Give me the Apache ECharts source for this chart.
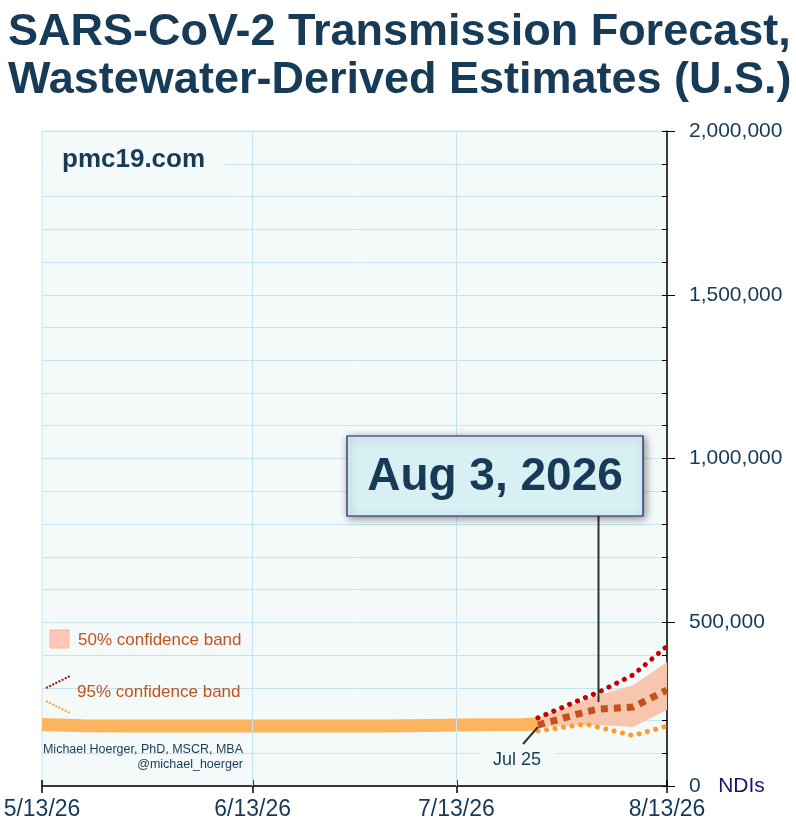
<!DOCTYPE html>
<html>
<head>
<meta charset="utf-8">
<script src="https://cdn.jsdelivr.net/npm/echarts@6/dist/echarts.min.js"></script>
<style>
  html, body { margin: 0; padding: 0; background: #fff; }
  #main { width: 796px; height: 828px; }
</style>
</head>
<body>
<div id="main"></div>
<script>
// 历史数据 (wastewater-derived estimates)
const histDates = ['2026-05-13', '2026-05-19', '2026-05-26', '2026-06-02', '2026-06-09', '2026-06-16',
  '2026-06-23', '2026-06-30', '2026-07-02', '2026-07-09', '2026-07-16', '2026-07-23', '2026-07-25'];
const histValues = [188000, 184000, 183000, 183000, 183000, 183000,
  183000, 183000, 183000, 185000, 187000, 188000, 189000];

// 预测数据
const fcDates = ['2026-07-25', '2026-08-01', '2026-08-03', '2026-08-08', '2026-08-13'];
const fcMedian = [186000, 226000, 235000, 241000, 293000];
const fc50Low = [180000, 186000, 186000, 180000, 232000];
const fc50High = [208000, 263000, 278000, 308000, 379000];
const fc95Low = [168000, 189000, 179000, 154000, 183000];
const fc95High = [208000, 270000, 287000, 339000, 427000];

// x 轴标签
const xTickDates = ['2026-05-13', '2026-06-13', '2026-07-13', '2026-08-13'];

const navy = '#173a57';
const font = 'Liberation Sans, Arial';

function ts(d) {
  return Date.UTC(+d.slice(0, 4), +d.slice(5, 7) - 1, +d.slice(8, 10));
}

function pairs(dates, vals) {
  return dates.map((d, i) => [ts(d), vals[i]]);
}

// 50% 置信带数据 [x, low, high]
const bandData = fcDates.map((d, i) => [ts(d), fc50Low[i], fc50High[i]]);

const chart = echarts.init(document.getElementById('main'), null, { renderer: 'canvas' });

const xMin = ts('2026-05-13');
const xMax = ts('2026-08-13');

const option = {
  backgroundColor: '#ffffff',
  animation: false,
  title: {
    text: 'SARS-CoV-2 Transmission Forecast,\nWastewater-Derived Estimates (U.S.)',
    left: 3,
    top: 4,
    textStyle: {
      fontFamily: font,
      fontSize: 45,
      fontWeight: 'bold',
      color: navy,
      lineHeight: 48
    }
  },
  grid: {
    left: 42,
    right: 129,
    top: 131,
    bottom: 42,
    show: true,
    backgroundColor: '#f4faf9',
    borderColor: '#c6e3f1',
    borderWidth: 1
  },
  xAxis: [
    {
      type: 'value',
      position: 'bottom',
      min: xMin,
      max: xMax,
      axisLine: { show: true, onZero: false, lineStyle: { color: '#000', width: 1.5 } },
      axisTick: {
        show: true,
        customValues: xTickDates.map(ts),
        length: 7,
        lineStyle: { color: '#000', width: 1.5 }
      },
      axisLabel: {
        customValues: xTickDates.map(ts),
        fontFamily: font,
        fontSize: 23,
        color: navy,
        margin: 12,
        formatter: function (v) {
          const d = new Date(v);
          return (d.getUTCMonth() + 1) + '/' + d.getUTCDate() + '/' + String(d.getUTCFullYear()).slice(2);
        }
      },
      splitLine: { show: false }
    },
    {
      // 内侧刻度
      type: 'value',
      position: 'bottom',
      min: xMin,
      max: xMax,
      axisLine: { show: false, onZero: false },
      axisTick: {
        show: true,
        inside: true,
        customValues: xTickDates.map(ts),
        length: 6,
        lineStyle: { color: '#000', width: 1.5 }
      },
      axisLabel: { show: false },
      splitLine: { show: false }
    }
  ],
  yAxis: [
    {
      type: 'value',
      position: 'right',
      min: 0,
      max: 2000000,
      interval: 100000,
      axisLine: { show: true, lineStyle: { color: '#000', width: 1.5 } },
      axisTick: { show: true, inside: true, length: 5, lineStyle: { color: '#000' } },
      axisLabel: { show: false },
      splitLine: { show: true, lineStyle: { color: '#c6e3f1', width: 1 } }
    },
    {
      type: 'value',
      position: 'right',
      min: 0,
      max: 2000000,
      interval: 500000,
      axisLine: { show: false },
      axisTick: { show: true, length: 8, lineStyle: { color: '#000' } },
      axisLabel: {
        margin: 22,
        fontFamily: font,
        fontSize: 21,
        color: navy,
        formatter: function (v) {
          if (v === 0) return '{a|0}   {b|NDIs}';
          return v.toLocaleString('en-US');
        },
        rich: {
          a: { fontFamily: font, fontSize: 21, color: navy },
          b: { fontFamily: font, fontSize: 21, color: '#16166e' }
        }
      },
      splitLine: { show: false }
    }
  ],
  series: [
    {
      // 竖向网格线
      type: 'line',
      data: [],
      silent: true,
      markLine: {
        silent: true,
        symbol: 'none',
        label: { show: false },
        lineStyle: { color: '#c6e3f1', width: 1, type: 'solid' },
        data: [{ xAxis: ts('2026-06-13') }, { xAxis: ts('2026-07-13') }]
      }
    },
    {
      name: '50% confidence band',
      type: 'custom',
      silent: true,
      data: bandData,
      encode: { x: 0, y: [1, 2] },
      z: 2,
      renderItem: function (params, api) {
        if (params.dataIndex !== 0) return;
        const top = bandData.map(d => api.coord([d[0], d[2]]));
        const bottom = bandData.map(d => api.coord([d[0], d[1]])).reverse();
        return {
          type: 'polygon',
          shape: { points: top.concat(bottom) },
          style: { fill: '#f6c6ae' }
        };
      }
    },
    {
      name: 'history',
      type: 'line',
      symbol: 'none',
      lineStyle: { color: '#fdb45e', width: 13, cap: 'butt' },
      data: pairs(histDates, histValues),
      z: 3
    },
    {
      name: '95% high',
      type: 'line',
      symbol: 'none',
      lineStyle: { color: '#c40000', width: 5, type: [0.1, 8.5], cap: 'round' },
      data: pairs(fcDates, fc95High),
      z: 4
    },
    {
      name: '95% low',
      type: 'line',
      symbol: 'none',
      lineStyle: { color: '#ff9a2c', width: 5, type: [0.1, 8.5], cap: 'round' },
      data: pairs(fcDates, fc95Low),
      z: 4
    },
    {
      name: 'median',
      type: 'line',
      symbol: 'none',
      lineStyle: { color: '#c4501a', width: 7, type: [7, 6], cap: 'butt' },
      data: pairs(fcDates, fcMedian),
      z: 5
    }
  ],
  graphic: [
    // pmc19.com
    { type: 'rect', shape: { x: 43, y: 144, width: 182, height: 32 }, style: { fill: '#f4faf9' }, z: 10 },
    {
      type: 'text', x: 62, y: 160, z: 11,
      style: { text: 'pmc19.com', font: 'bold 26px ' + font, fill: navy, verticalAlign: 'middle' }
    },
    // 图例
    {
      type: 'rect', shape: { x: 50, y: 630, width: 19, height: 18 },
      style: { fill: '#fbc9b5', stroke: '#f6b59b', lineWidth: 1 }, z: 10
    },
    {
      type: 'text', x: 78, y: 640, z: 11,
      style: { text: '50% confidence band', font: '17px ' + font, fill: '#c0531e', verticalAlign: 'middle' }
    },
    {
      type: 'line', shape: { x1: 46, y1: 688, x2: 70, y2: 676 },
      style: { stroke: '#a01010', lineWidth: 2, lineDash: [2, 1.5] }, z: 10
    },
    {
      type: 'line', shape: { x1: 46, y1: 701, x2: 70, y2: 713 },
      style: { stroke: '#ffa030', lineWidth: 2, lineDash: [2, 1.5] }, z: 10
    },
    {
      type: 'text', x: 77, y: 692, z: 11,
      style: { text: '95% confidence band', font: '17px ' + font, fill: '#c0531e', verticalAlign: 'middle' }
    },
    // 作者
    {
      type: 'text', x: 243, y: 750, z: 11,
      style: {
        text: 'Michael Hoerger, PhD, MSCR, MBA',
        font: '12.5px ' + font, fill: navy, align: 'right', verticalAlign: 'middle'
      }
    },
    {
      type: 'text', x: 243, y: 765, z: 11,
      style: {
        text: '@michael_hoerger',
        font: '12.5px ' + font, fill: navy, align: 'right', verticalAlign: 'middle'
      }
    },
    // Jul 25 标注
    { type: 'rect', shape: { x: 480, y: 748, width: 76, height: 24 }, style: { fill: '#f4faf9' }, z: 10 },
    {
      type: 'text', x: 517, y: 760, z: 11,
      style: { text: 'Jul 25', font: '18px ' + font, fill: navy, align: 'center', verticalAlign: 'middle' }
    },
    {
      type: 'line', shape: { x1: 523, y1: 744, x2: 538, y2: 727 },
      style: { stroke: '#333', lineWidth: 2 }, z: 11
    },
    // Aug 3, 2026 标注框
    {
      type: 'line', shape: { x1: 598.5, y1: 515, x2: 598.5, y2: 702 },
      style: { stroke: '#333', lineWidth: 2 }, z: 11
    },
    {
      type: 'rect', shape: { x: 347, y: 436, width: 296, height: 80 },
      style: {
        fill: '#d8f0f4', stroke: '#1c1c6a', lineWidth: 1.2,
        shadowBlur: 8, shadowColor: 'rgba(0,0,0,0.45)', shadowOffsetX: 2, shadowOffsetY: 2
      },
      z: 12
    },
    {
      type: 'text', x: 495, y: 477, z: 13,
      style: {
        text: 'Aug 3, 2026', font: 'bold 46px ' + font, fill: navy,
        align: 'center', verticalAlign: 'middle'
      }
    }
  ]
};

chart.setOption(option);
</script>
</body>
</html>
